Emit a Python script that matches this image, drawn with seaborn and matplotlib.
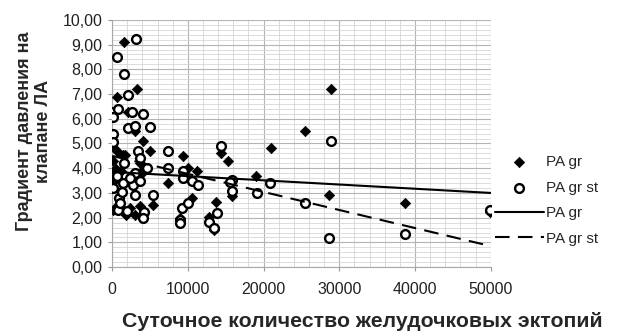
import matplotlib
matplotlib.use("Agg")
import matplotlib.pyplot as plt
import seaborn as sns
import pandas as pd
from matplotlib.ticker import MultipleLocator

# ---- data ----
pa_gr_x = [1620, 700, 3260, 2150, 3030, 4130, 5010, 175, 830, 1710, 90, 3690,
           0, 400, 200, 600, 300, 1200, 2500, 3300, 4000, 7430, 9400, 10070,
           11260, 14330, 15350, 15790, 18990, 20930, 10510, 8970, 12840, 13500,
           13720, 5360, 3690, 90, 1850, 3030, 2370, 800, 25460, 28890, 28620,
           38650, 49950, 4100, 1450, 2800, 1000, 500, 100]
pa_gr_y = [9.12, 6.90, 7.20, 6.29, 5.52, 5.10, 4.70, 4.87, 4.67, 4.53, 4.30, 4.20,
           3.86, 3.80, 3.60, 3.70, 3.50, 3.90, 3.70, 3.60, 3.80, 3.41, 4.50, 4.02,
           3.89, 4.60, 4.29, 2.89, 3.70, 4.80, 2.80, 1.97, 2.04, 1.50,
           2.62, 2.51, 2.48, 2.31, 2.10, 2.10, 2.38, 2.50, 5.50, 7.19, 2.91,
           2.60, 2.21, 3.93, 4.53, 3.45, 2.45, 3.95, 3.65]

pa_gr_st_x = [3170, 700, 1620, 2150, 175, 830, 175, 2600, 4130, 2150, 3030, 5010,
              175, 175, 3470, 7430, 14380, 3690, 1580, 3030, 4570, 7430, 9400,
              9400, 10600, 11300, 15790, 15870, 19080, 20840, 5360, 3030, 970,
              175, 1280, 1490, 2810, 3690, 4260, 4130, 830, 1940, 9190, 10070,
              8970, 8900, 12840, 13500, 13800, 15560, 25460, 28890, 28620,
              38650, 49950, 2300, 1100, 600]
pa_gr_st_y = [9.22, 8.49, 7.80, 6.96, 6.29, 6.40, 6.09, 6.26, 6.19, 5.61, 5.71, 5.68,
              5.37, 5.07, 4.71, 4.70, 4.90, 4.40, 4.20, 3.80, 4.02, 4.02, 3.90,
              3.59, 3.48, 3.32, 3.52, 3.09, 3.01, 3.41, 2.91, 2.91, 2.78,
              3.19, 3.05, 3.41, 3.32, 3.48, 2.24, 1.97, 2.33, 2.28, 2.40, 2.60,
              1.90, 1.80, 1.83, 1.60, 2.20, 3.45, 2.60, 5.10, 1.19,
              1.32, 2.31, 3.60, 2.60, 3.70]

trend_x = [0, 50000]
trend_gr = [3.85, 3.00]
trend_gr_st = [4.50, 0.85]

y_ticks = [0, 1, 2, 3, 4, 5, 6, 7, 8, 9, 10]
y_tick_labels = ["0,00", "1,00", "2,00", "3,00", "4,00", "5,00",
                 "6,00", "7,00", "8,00", "9,00", "10,00"]
x_ticks = [0, 10000, 20000, 30000, 40000, 50000]
x_tick_labels = ["0", "10000", "20000", "30000", "40000", "50000"]

x_label = "Суточное количество желудочковых эктопий"
y_label = "Градиент давления на\nклапане ЛА"

# ---- plotting ----
sns.set_theme(style="white")
plt.rcParams["font.family"] = ["Liberation Sans", "DejaVu Sans"]

fig = plt.figure(figsize=(6.30, 3.31), dpi=100)
ax = fig.add_axes([0.178, 0.193, 0.601, 0.747])

df_gr = pd.DataFrame({"x": pa_gr_x, "y": pa_gr_y})
df_st = pd.DataFrame({"x": pa_gr_st_x, "y": pa_gr_st_y})
df_tr = pd.DataFrame({"x": trend_x, "gr": trend_gr, "st": trend_gr_st})

sns.scatterplot(data=df_gr, x="x", y="y", ax=ax, marker="D", s=28,
                color="black", edgecolor="black", linewidth=0.5,
                label="PA gr", zorder=3)
sns.scatterplot(data=df_st, x="x", y="y", ax=ax, marker="o", s=40,
                color="white", edgecolor="black", linewidth=1.7,
                label="PA gr st", zorder=4)
sns.lineplot(data=df_tr, x="x", y="gr", ax=ax, color="black", linewidth=1.5,
             label="PA gr", zorder=5)
sns.lineplot(data=df_tr, x="x", y="st", ax=ax, color="black", linewidth=1.5,
             linestyle=(0, (7, 4)), label="PA gr st", zorder=5)

ax.set_xlim(0, 50000)
ax.set_ylim(0, 10)
ax.set_xticks(x_ticks)
ax.set_xticklabels(x_tick_labels, fontsize=11.5, color="#222222")
ax.set_yticks(y_ticks)
ax.set_yticklabels(y_tick_labels, fontsize=11.5, color="#222222")
ax.xaxis.set_minor_locator(MultipleLocator(2000))
ax.yaxis.set_minor_locator(MultipleLocator(0.2))
ax.grid(which="major", color="#b4b4b4", linewidth=0.8)
ax.grid(which="minor", color="#d6d6d6", linewidth=0.6)
ax.set_axisbelow(True)
ax.tick_params(axis="x", which="major", length=3, width=0.8,
               color="#999999", direction="out", pad=8, bottom=True)
ax.tick_params(axis="y", which="major", length=3, width=0.8,
               color="#999999", direction="out", pad=4, left=True)
ax.tick_params(axis="both", which="minor", length=0)
for side in ["top", "right"]:
    ax.spines[side].set_visible(False)
for side in ["left", "bottom"]:
    ax.spines[side].set_color("#a8a8a8")
    ax.spines[side].set_linewidth(0.8)

ax.set_xlabel(x_label, fontsize=15.3, fontweight="bold")
ax.xaxis.set_label_coords(0.66, -0.18)
ax.set_ylabel(y_label, fontsize=13, fontweight="bold")
ax.yaxis.set_label_coords(-0.158, 0.55)

leg = ax.legend(loc="center left", bbox_to_anchor=(0.975, 0.27), frameon=False,
                fontsize=11, handlelength=3.2, handletextpad=0.15,
                labelspacing=0.75)

fig.savefig("out.png", dpi=100)
